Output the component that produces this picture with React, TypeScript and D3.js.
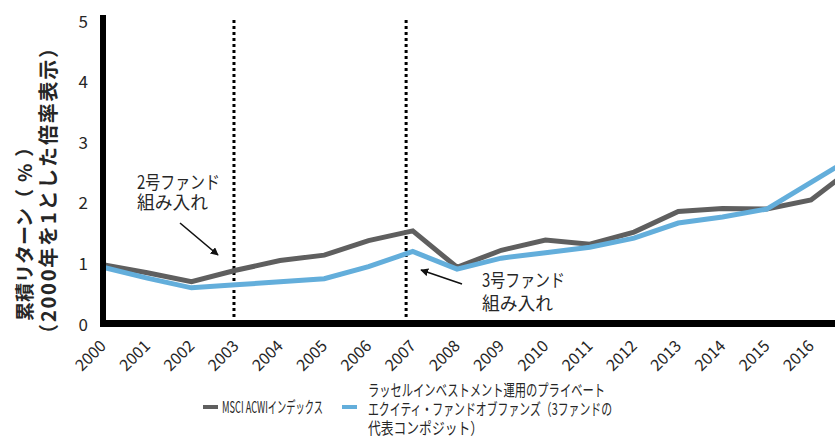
import React from "react";
import * as d3 from "d3";

// Cumulative return, indexed to 2000 = 1
const years = [2000, 2001, 2002, 2003, 2004, 2005, 2006, 2007, 2008, 2009, 2010, 2011, 2012, 2013, 2014, 2015, 2016, 2017];
const msciAcwi = [0.96, 0.83, 0.68, 0.87, 1.03, 1.12, 1.36, 1.52, 0.92, 1.2, 1.37, 1.3, 1.5, 1.84, 1.89, 1.88, 2.03, 2.59];
const russellPE = [0.92, 0.74, 0.58, 0.63, 0.68, 0.73, 0.93, 1.18, 0.89, 1.07, 1.16, 1.25, 1.4, 1.65, 1.75, 1.88, 2.32, 2.76];

const xTickYears = [2000, 2001, 2002, 2003, 2004, 2005, 2006, 2007, 2008, 2009, 2010, 2011, 2012, 2013, 2014, 2015, 2016];
const yTicks = [0, 1, 2, 3, 4, 5];

// Dates the 2nd and 3rd funds were added (dotted markers)
const fundEntryMarks = [2002.96, 2006.85];

const seriesNames = ["MSCI ACWIインデックス", "ラッセルインベストメント運用のプライベート", "エクイティ・ファンドオブファンズ（3ファンドの", "代表コンポジット）"];

const W = 835;
const H = 448;
const FONT = "'Noto Sans CJK JP', 'Noto Sans', sans-serif";
const GRAY = "#5f5f5f";
const BLUE = "#63aedb";
const TEXT = "#262626";

export default function App() {
  const x = d3.scaleLinear().domain([2000, 2016]).range([103, 811]);
  const y = d3.scaleLinear().domain([0, 5]).range([323, 20]);
  const line = d3
    .line<number>()
    .x((_, i) => x(years[i]))
    .y((d) => y(d));

  return (
    <svg
      width={W}
      height={H}
      style={{ position: "absolute", left: 0, top: 0, background: "#fff" }}
      fontFamily={FONT}
    >
      <defs>
        <marker id="arrowhead" viewBox="0 0 10 10" refX="9" refY="5" markerWidth="8" markerHeight="8" orient="auto" markerUnits="userSpaceOnUse">
          <path d="M0,0 L10,5 L0,10 Z" fill="#111" />
        </marker>
      </defs>

      {/* dotted fund entry markers */}
      {fundEntryMarks.map((m) => (
        <line key={m} x1={x(m)} x2={x(m)} y1={y(5)} y2={y(0)} stroke="#000" strokeWidth={3} strokeDasharray="3,3" />
      ))}

      {/* series */}
      <path d={line(msciAcwi) ?? ""} fill="none" stroke={GRAY} strokeWidth={5} strokeLinejoin="miter" />
      <path d={line(russellPE) ?? ""} fill="none" stroke={BLUE} strokeWidth={5} strokeLinejoin="miter" />

      {/* axes */}
      <line x1={103} x2={103} y1={y(5) - 5} y2={y(0) + 4} stroke="#000" strokeWidth={6} />
      <line x1={100} x2={W} y1={y(0) + 0.5} y2={y(0) + 0.5} stroke="#000" strokeWidth={7} />

      {/* y ticks */}
      {yTicks.map((t) => (
        <text key={t} x={88} y={y(t)} textAnchor="end" dominantBaseline="central" fontSize={17} fill={TEXT}>
          {t}
        </text>
      ))}

      {/* x ticks */}
      {xTickYears.map((yr) => (
        <text key={yr} transform={`translate(${x(yr) + 4},347) rotate(-45)`} textAnchor="end" fontSize={16} fill={TEXT}>
          {yr}
        </text>
      ))}

      {/* y axis title */}
      <g fontWeight="bold" fill={TEXT}>
        <text transform="translate(23,321) rotate(-90)" textAnchor="start" dominantBaseline="central" fontSize={19}>
          累積リターン<tspan letterSpacing={7}>（%）</tspan>
        </text>
        <text transform="translate(47,190) rotate(-90)" textAnchor="middle" dominantBaseline="central" fontSize={20} letterSpacing={1.8}>
          （2000年を1とした倍率表示）
        </text>
      </g>

      {/* annotations */}
      <g fontSize={18} fill={TEXT}>
        <text x={137} y={189} textLength={83} lengthAdjust="spacingAndGlyphs">2号ファンド</text>
        <text x={137} y={209} textLength={71} lengthAdjust="spacingAndGlyphs">組み入れ</text>
        <text x={482} y={287} textLength={83} lengthAdjust="spacingAndGlyphs">3号ファンド</text>
        <text x={482} y={310} textLength={71} lengthAdjust="spacingAndGlyphs">組み入れ</text>
      </g>
      <line x1={180} y1={223} x2={218} y2={255} stroke="#111" strokeWidth={1.6} markerEnd="url(#arrowhead)" />
      <line x1={462} y1={284} x2={421} y2={270} stroke="#111" strokeWidth={1.6} markerEnd="url(#arrowhead)" />

      {/* legend */}
      <line x1={203} x2={218} y1={407} y2={407} stroke={GRAY} strokeWidth={4} />
      <text x={222} y={413} fontSize={16} fill={TEXT} textLength={101} lengthAdjust="spacingAndGlyphs">
        {seriesNames[0]}
      </text>
      <line x1={342} x2={357} y1={407} y2={407} stroke={BLUE} strokeWidth={4} />
      <g fontSize={16} fill={TEXT}>
        <text x={368} y={396} textLength={237} lengthAdjust="spacingAndGlyphs">{seriesNames[1]}</text>
        <text x={368} y={415} textLength={244} lengthAdjust="spacingAndGlyphs">{seriesNames[2]}</text>
        <text x={368} y={434} textLength={115} lengthAdjust="spacingAndGlyphs">{seriesNames[3]}</text>
      </g>
    </svg>
  );
}
